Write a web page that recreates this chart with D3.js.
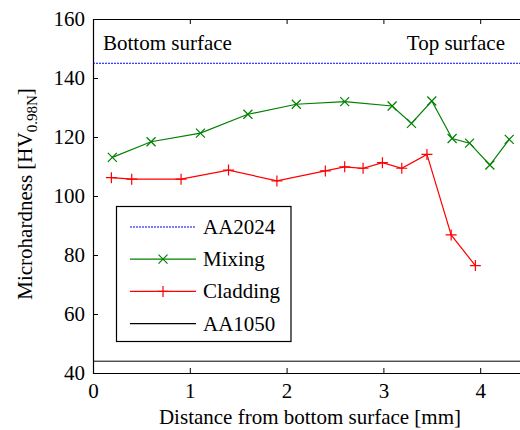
<!DOCTYPE html>
<html lang="en">
<head>
<meta charset="UTF-8">
<title>Microhardness profile</title>
<script src="https://d3js.org/d3.v7.min.js"></script>
<style>
    body { margin: 0; background: #fff; }
    svg { display: block; font-family: "Liberation Serif", "Times New Roman", serif; }
    .axis path, .axis line { stroke: #000; }
</style>
</head>
<body>
<div id="chart"></div>
<script>
    const mixingX = [0.20, 0.60, 1.11, 1.60, 2.10, 2.60, 3.09, 3.29, 3.50, 3.71, 3.89, 4.10, 4.30];
    const mixingY = [113.1, 118.4, 121.3, 127.7, 131.1, 132.0, 130.5, 124.6, 132.2, 119.5, 117.9, 110.5, 119.2];
    const claddingX = [0.19, 0.40, 0.91, 1.40, 1.90, 2.40, 2.60, 2.79, 2.99, 3.19, 3.45, 3.70, 3.95];
    const claddingY = [106.2, 105.7, 105.7, 108.8, 105.1, 108.5, 109.9, 109.4, 111.3, 109.4, 114.1, 86.8, 76.4];
    const aa2024 = 145;
    const aa1050 = 44;
    const xTicks = [0, 1, 2, 3, 4];
    const yTicks = [40, 60, 80, 100, 120, 140, 160];

    const width = 520, height = 430;
    const serif = "Liberation Serif, Times New Roman, serif";
    const svg = d3.select("#chart").append("svg")
        .attr("width", width)
        .attr("height", height);

    const x = d3.scaleLinear().domain([0, 4.5]).range([93, 528.6]);
    const y = d3.scaleLinear().domain([40, 160]).range([373, 19]);

    // axes (ticks pointing inwards, matlab style)
    const gx = svg.append("g").attr("class", "axis")
        .attr("transform", `translate(0,${y(40)})`)
        .call(d3.axisBottom(x).tickValues(xTicks).tickSizeInner(-5).tickSizeOuter(0).tickPadding(10).tickFormat(d3.format("d")));
    svg.append("g").attr("class", "axis")
        .attr("transform", `translate(0,${y(160)})`)
        .call(d3.axisTop(x).tickValues(xTicks.filter(d => d > 0)).tickSizeInner(-5).tickSizeOuter(0).tickFormat(""));
    const gy = svg.append("g").attr("class", "axis")
        .attr("transform", `translate(${x(0)},0)`)
        .call(d3.axisLeft(y).tickValues(yTicks).tickSizeInner(-5).tickSizeOuter(0).tickPadding(8).tickFormat(d3.format("d")));
    [gx, gy].forEach(g => {
        g.attr("font-family", serif).attr("font-size", 21);
        g.selectAll("text").attr("font-family", serif).attr("font-size", 21).attr("fill", "#000");
    });
    svg.selectAll(".axis .domain").attr("stroke-width", 1.2);

    // reference lines
    svg.append("line")
        .attr("x1", x(0)).attr("x2", width)
        .attr("y1", y(aa2024)).attr("y2", y(aa2024))
        .attr("stroke", "#0000ff").attr("stroke-width", 1).attr("stroke-dasharray", "2,1");
    svg.append("line")
        .attr("x1", x(0)).attr("x2", width)
        .attr("y1", y(aa1050)).attr("y2", y(aa1050))
        .attr("stroke", "#000").attr("stroke-width", 1);

    const line = d3.line().x(d => x(d[0])).y(d => y(d[1]));
    const mixing = mixingX.map((v, i) => [v, mixingY[i]]);
    const cladding = claddingX.map((v, i) => [v, claddingY[i]]);

    const green = "#008000", red = "#ff0000";

    svg.append("path").datum(mixing).attr("d", line)
        .attr("fill", "none").attr("stroke", green).attr("stroke-width", 1.2);
    svg.append("path").datum(cladding).attr("d", line)
        .attr("fill", "none").attr("stroke", red).attr("stroke-width", 1.2);

    function crossMark(g, cx, cy, s, color) {
        g.append("path")
            .attr("d", `M${cx - s},${cy - s}L${cx + s},${cy + s}M${cx - s},${cy + s}L${cx + s},${cy - s}`)
            .attr("stroke", color).attr("stroke-width", 1.2).attr("fill", "none");
    }
    function plusMark(g, cx, cy, s, color) {
        g.append("path")
            .attr("d", `M${cx - s},${cy}L${cx + s},${cy}M${cx},${cy - s}L${cx},${cy + s}`)
            .attr("stroke", color).attr("stroke-width", 1.2).attr("fill", "none");
    }

    const marks = svg.append("g");
    mixing.forEach(d => crossMark(marks, x(d[0]), y(d[1]), 4.5, green));
    cladding.forEach(d => plusMark(marks, x(d[0]), y(d[1]), 5.5, red));

    // annotations
    svg.append("text").attr("x", 103).attr("y", 50).attr("font-size", 21).text("Bottom surface");
    svg.append("text").attr("x", 505).attr("y", 50).attr("font-size", 21).attr("text-anchor", "end").text("Top surface");

    // axis titles
    svg.append("text").attr("x", 310).attr("y", 424).attr("font-size", 21)
        .attr("text-anchor", "middle").text("Distance from bottom surface [mm]");
    const yt = svg.append("text")
        .attr("transform", "translate(32,194) rotate(-90)")
        .attr("text-anchor", "middle").attr("font-size", 21);
    yt.append("tspan").text("Microhardness [HV");
    yt.append("tspan").attr("font-size", 15).attr("dy", 5).text("0.98N");
    yt.append("tspan").attr("dy", -5).text("]");

    // legend
    const legend = svg.append("g");
    legend.append("rect")
        .attr("x", 116.5).attr("y", 206.5).attr("width", 174.5).attr("height", 135)
        .attr("fill", "#fff").attr("stroke", "#000").attr("stroke-width", 1.2);
    const entries = [
        { name: "AA2024", color: "#0000ff", dash: "2,1", mark: null },
        { name: "Mixing", color: green, dash: null, mark: "x" },
        { name: "Cladding", color: red, dash: null, mark: "+" },
        { name: "AA1050", color: "#000", dash: null, mark: null }
    ];
    entries.forEach((e, i) => {
        const ly = 227 + i * 32.2;
        legend.append("line")
            .attr("x1", 130).attr("x2", 196).attr("y1", ly).attr("y2", ly)
            .attr("stroke", e.color).attr("stroke-width", 1.2)
            .attr("stroke-dasharray", e.dash);
        if (e.mark === "x") crossMark(legend, 163, ly, 4.5, e.color);
        if (e.mark === "+") plusMark(legend, 163, ly, 5.5, e.color);
        legend.append("text").attr("x", 203).attr("y", ly + 7).attr("font-size", 21).text(e.name);
    });
</script>
</body>
</html>
